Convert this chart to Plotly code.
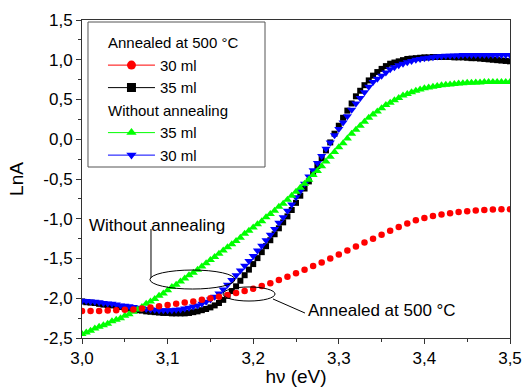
import numpy as np
import plotly.graph_objects as go

# ---------------- data ----------------
# Annealed at 500 °C, 30 ml (red circles), step 0.01 eV from 3.00
red_30_y = [-2.16, -2.16, -2.16, -2.155, -2.15, -2.145, -2.14, -2.13, -2.115, -2.10,
            -2.085, -2.07, -2.055, -2.04, -2.02, -2.00, -1.98, -1.96, -1.935, -1.91,
            -1.88, -1.845, -1.81, -1.77, -1.73, -1.685, -1.64, -1.595, -1.55, -1.50,
            -1.45, -1.40, -1.35, -1.30, -1.25, -1.20, -1.15, -1.105, -1.06, -1.02,
            -0.99, -0.965, -0.945, -0.93, -0.915, -0.905, -0.895, -0.89, -0.885, -0.88,
            -0.88]
red_30_x = [round(3.0 + 0.01 * i, 3) for i in range(len(red_30_y))]

# Annealed at 500 °C, 35 ml (black squares), step 0.005 eV from 3.000
black_35_y = [-2.04, -2.05, -2.055, -2.06, -2.07, -2.08, -2.085, -2.09, -2.10, -2.11,
              -2.12, -2.13, -2.14, -2.15, -2.155, -2.165, -2.17, -2.175, -2.18, -2.185,
              -2.185, -2.19, -2.19, -2.19, -2.19, -2.185, -2.175, -2.165, -2.15, -2.135,
              -2.115, -2.09, -2.06, -2.02, -1.97, -1.91, -1.85, -1.78, -1.71, -1.64,
              -1.57, -1.495, -1.42, -1.345, -1.27, -1.195, -1.12, -1.045, -0.97, -0.89,
              -0.80, -0.71, -0.62, -0.53, -0.43, -0.335, -0.24, -0.14, -0.04, 0.07,
              0.17, 0.27, 0.36, 0.45, 0.54, 0.61, 0.68, 0.74, 0.80, 0.845,
              0.885, 0.92, 0.95, 0.965, 0.98, 0.995, 1.01, 1.015, 1.02, 1.025,
              1.03, 1.03, 1.035, 1.035, 1.035, 1.035, 1.035, 1.03, 1.03, 1.03,
              1.025, 1.02, 1.02, 1.015, 1.01, 1.005, 1.00, 0.995, 0.99, 0.985,
              0.98]
black_35_x = [round(3.0 + 0.005 * i, 3) for i in range(len(black_35_y))]

# Without annealing, 35 ml (green up-triangles), step 0.005 eV
green_35_y = [-2.45, -2.43, -2.41, -2.38, -2.36, -2.34, -2.32, -2.29, -2.27, -2.25,
              -2.22, -2.20, -2.17, -2.14, -2.11, -2.07, -2.04, -2.01, -1.97, -1.94,
              -1.90, -1.86, -1.83, -1.79, -1.75, -1.71, -1.68, -1.64, -1.60, -1.56,
              -1.52, -1.48, -1.44, -1.40, -1.36, -1.32, -1.28, -1.24, -1.19, -1.15,
              -1.11, -1.07, -1.03, -0.98, -0.94, -0.90, -0.85, -0.81, -0.76, -0.71,
              -0.66, -0.61, -0.56, -0.51, -0.45, -0.40, -0.34, -0.28, -0.22, -0.16,
              -0.10, -0.05, 0.01, 0.07, 0.12, 0.17, 0.22, 0.27, 0.31, 0.35,
              0.39, 0.43, 0.46, 0.49, 0.52, 0.55, 0.57, 0.59, 0.61, 0.625,
              0.64, 0.65, 0.66, 0.67, 0.68, 0.685, 0.69, 0.695, 0.70, 0.705,
              0.71, 0.71, 0.715, 0.715, 0.72, 0.72, 0.72, 0.72, 0.72, 0.72,
              0.72]
green_35_x = [round(3.0 + 0.005 * i, 3) for i in range(len(green_35_y))]

# Without annealing, 30 ml (blue down-triangles), step 0.005 eV
blue_30_y = [-2.03, -2.035, -2.04, -2.045, -2.05, -2.06, -2.065, -2.07, -2.08, -2.09,
             -2.095, -2.10, -2.11, -2.12, -2.125, -2.135, -2.14, -2.145, -2.15, -2.15,
             -2.15, -2.15, -2.145, -2.14, -2.13, -2.12, -2.105, -2.09, -2.07, -2.045,
             -2.015, -1.98, -1.94, -1.89, -1.83, -1.77, -1.71, -1.65, -1.59, -1.53,
             -1.47, -1.40, -1.34, -1.27, -1.20, -1.13, -1.05, -0.98, -0.90, -0.82,
             -0.73, -0.65, -0.56, -0.47, -0.39, -0.30, -0.21, -0.12, -0.04, 0.05,
             0.13, 0.21, 0.29, 0.37, 0.45, 0.52, 0.59, 0.66, 0.72, 0.76,
             0.80, 0.84, 0.88, 0.905, 0.93, 0.95, 0.97, 0.985, 1.00, 1.01,
             1.02, 1.025, 1.03, 1.04, 1.045, 1.05, 1.05, 1.055, 1.055, 1.06,
             1.06, 1.06, 1.06, 1.06, 1.06, 1.06, 1.06, 1.06, 1.06, 1.06,
             1.06]
blue_30_x = [round(3.0 + 0.005 * i, 3) for i in range(len(blue_30_y))]

x_tick_vals = [3.0, 3.1, 3.2, 3.3, 3.4, 3.5]
x_tick_text = ["3,0", "3,1", "3,2", "3,3", "3,4", "3,5"]
y_tick_vals = [-2.5, -2.0, -1.5, -1.0, -0.5, 0.0, 0.5, 1.0, 1.5]
y_tick_text = ["-2,5", "-2,0", "-1,5", "-1,0", "-0,5", "0,0", "0,5", "1,0", "1,5"]

FONT = "Arial, Liberation Sans, sans-serif"
fig = go.Figure()

# plotted data (no legend)
fig.add_trace(go.Scatter(x=black_35_x, y=black_35_y, mode="markers", showlegend=False,
                         marker=dict(symbol="square", size=6, color="#000000")))
fig.add_trace(go.Scatter(x=blue_30_x, y=blue_30_y, mode="markers", showlegend=False,
                         marker=dict(symbol="triangle-down", size=8, color="#0000ff")))
fig.add_trace(go.Scatter(x=green_35_x, y=green_35_y, mode="markers", showlegend=False,
                         marker=dict(symbol="triangle-up", size=8, color="#00ff00")))
fig.add_trace(go.Scatter(x=red_30_x, y=red_30_y, mode="markers", showlegend=False,
                         marker=dict(symbol="circle", size=6.5, color="#ff0000")))

# legend entries (line + symbol, as in the original)
legend_items = [
    ("ann", "Annealed at 500 °C", "30 ml", "circle", "#ff0000"),
    ("ann", "Annealed at 500 °C", "35 ml", "square", "#000000"),
    ("wo", "Without annealing", "35 ml", "triangle-up", "#00ff00"),
    ("wo", "Without annealing", "30 ml", "triangle-down", "#0000ff"),
]
for grp, title, name, sym, col in legend_items:
    fig.add_trace(go.Scatter(x=[None], y=[None], mode="lines+markers", name=name,
                             legendgroup=grp,
                             legendgrouptitle=dict(text=title, font=dict(size=15)),
                             line=dict(color=col, width=1),
                             marker=dict(symbol=sym, size=9, color=col)))

# legend frame
fig.add_shape(type="rect", xref="paper", yref="paper", x0=0.014, x1=0.4276, y0=0.5377, y1=0.9937,
              line=dict(color="#555555", width=1), fillcolor="rgba(0,0,0,0)", layer="above")

# ellipses and leader lines
fig.add_shape(type="circle", xref="x", yref="y", x0=3.0794, x1=3.1787, y0=-1.884, y1=-1.645,
              line=dict(color="black", width=1))
fig.add_shape(type="line", xref="x", yref="y", x0=3.0806, x1=3.0806, y0=-1.129, y1=-1.745,
              line=dict(color="black", width=1))
fig.add_shape(type="circle", xref="x", yref="y", x0=3.1647, x1=3.2255, y0=-2.035, y1=-1.858,
              line=dict(color="black", width=1))
fig.add_shape(type="line", xref="x", yref="y", x0=3.2231, x1=3.2605, y0=-2.009, y1=-2.186,
              line=dict(color="black", width=1))
fig.add_annotation(x=3.006, y=-1.08, xref="x", yref="y", text="Without annealing", showarrow=False,
                   xanchor="left", yanchor="middle", font=dict(size=17, color="black", family=FONT))
fig.add_annotation(x=3.262, y=-2.16, xref="x", yref="y", text="Annealed at 500 °C", showarrow=False,
                   xanchor="left", yanchor="middle", font=dict(size=17, color="black", family=FONT))

axis_common = dict(showline=True, linecolor="#333333", linewidth=1, mirror=True,
                   showgrid=False, zeroline=False, ticks="outside", ticklen=5,
                   tickcolor="#333333", automargin=False,
                   tickfont=dict(size=17, color="black", family=FONT))
fig.update_xaxes(range=[3.0, 3.5], tickvals=x_tick_vals, ticktext=x_tick_text,
                 minor=dict(dtick=0.05, ticks="outside", ticklen=3, tickcolor="#333333"),
                 title=dict(text="hν (eV)", font=dict(size=19, color="black", family=FONT), standoff=2),
                 **axis_common)
fig.update_yaxes(range=[-2.5, 1.5], tickvals=y_tick_vals, ticktext=y_tick_text,
                 minor=dict(dtick=0.25, tick0=0, ticks="outside", ticklen=3, tickcolor="#333333"),
                 title=dict(text="LnA", font=dict(size=19, color="black", family=FONT), standoff=14),
                 **axis_common)

fig.update_layout(
    width=523, height=388,
    margin=dict(l=82, r=13, t=20, b=50),
    paper_bgcolor="white", plot_bgcolor="white",
    font=dict(family=FONT, size=15, color="black"),
    legend=dict(x=0.049, y=0.98, xanchor="left", yanchor="top",
                borderwidth=0, bgcolor="rgba(0,0,0,0)",
                font=dict(size=15), tracegroupgap=0, itemwidth=47),
)

fig.write_html("out.html", config={"displayModeBar": False},
               post_script="document.body.style.margin='0';document.body.style.padding='0';")
